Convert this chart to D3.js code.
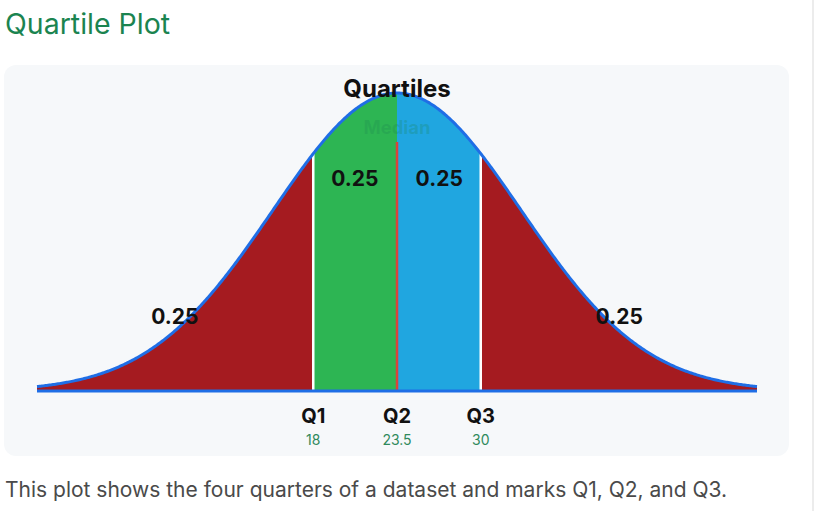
<!DOCTYPE html>
<html>
<head>
<meta charset="utf-8">
<script src="https://cdn.jsdelivr.net/npm/d3@7"></script>
<style>
  body { margin: 0; background: #fff; font-family: Inter, "Noto Sans", sans-serif; overflow: hidden; }
  #edge { position: absolute; left: 812px; top: 0; width: 2px; height: 511px; background: #ececec; }
</style>
</head>
<body>
<div id="edge"></div>
<svg id="svg1"></svg>
<script>
// quartile positions on a standard normal curve
var quartileNames = ["Q1", "Q2", "Q3"];
var quartileValues = [18, 23.5, 30];
var quartileZ = [-0.6745, 0, 0.6745];
var areaLabels = ["0.25", "0.25", "0.25", "0.25"];
var areaColors = ["#a51b20", "#2db553", "#20a6e0", "#a51b20"];

var width = 819, height = 511;
var margin = {left: 37, right: 62, top: 93, bottom: 120};

var svg = d3.select('#svg1')
  .attr('width', width)
  .attr('height', height);

svg.append('text')
  .attr('x', 5)
  .attr('y', 34)
  .attr('fill', '#1b8450')
  .style('font-size', '28.5px')
  .text('Quartile Plot');

svg.append('rect')
  .attr('x', 4).attr('y', 65)
  .attr('width', 785).attr('height', 391)
  .attr('rx', 12)
  .attr('fill', '#f6f8fa');

svg.append('text')
  .attr('x', 5)
  .attr('y', 497)
  .attr('fill', '#4a4a4a')
  .style('font-size', '21px')
  .text('This plot shows the four quarters of a dataset and marks Q1, Q2, and Q3.');

var zMax = 2.9;
var x = d3.scaleLinear().domain([-zMax, zMax]).range([margin.left, width - margin.right]);
var pdf = function(z) { return Math.exp(-z * z / 2) / Math.sqrt(2 * Math.PI); };
var y = d3.scaleLinear().domain([0, pdf(0)]).range([391, margin.top]);

// the density curve itself
var zs = d3.range(-zMax, zMax + 0.0001, 0.01);
var area = d3.area()
  .x(function(d) { return x(d); })
  .y0(y(0))
  .y1(function(d) { return y(pdf(d)); });

var bounds = [-zMax].concat(quartileZ).concat([zMax]);
areaColors.forEach(function(c, i) {
  var lo = bounds[i], hi = bounds[i + 1];
  var seg = zs.filter(function(z) { return z >= lo && z <= hi; });
  seg = [lo].concat(seg).concat([hi]);
  svg.append('path')
    .datum(seg)
    .attr('d', area)
    .attr('fill', c);
});

svg.append('text')
  .attr('x', x(0))
  .attr('y', 134)
  .attr('text-anchor', 'middle')
  .attr('fill', '#1b8450')
  .attr('fill-opacity', 0.25)
  .style('font-size', '18.5px')
  .style('font-weight', 'bold')
  .text('Median');

// quartile lines
quartileZ.forEach(function(z, i) {
  svg.append('line')
    .attr('x1', x(z)).attr('x2', x(z))
    .attr('y1', i == 1 ? 142 : y(pdf(z)))
    .attr('y2', y(0))
    .attr('stroke', i == 1 ? '#d8443c' : '#fff')
    .attr('stroke-width', 2.5);
});

svg.append('path')
  .datum(zs)
  .attr('d', d3.line().x(function(d) { return x(d); }).y(function(d) { return y(pdf(d)); }))
  .attr('fill', 'none')
  .attr('stroke', '#1f6ee6')
  .attr('stroke-width', 3);

svg.append('line')
  .attr('x1', x(-zMax)).attr('x2', x(zMax))
  .attr('y1', y(0)).attr('y2', y(0))
  .attr('stroke', '#1f6ee6')
  .attr('stroke-width', 3);

svg.append('text')
  .attr('x', x(0))
  .attr('y', 97)
  .attr('text-anchor', 'middle')
  .attr('fill', '#111')
  .style('font-size', '24px')
  .style('font-weight', 'bold')
  .text('Quartiles');

// 0.25 labels
var labelZ = [-1.79, -0.34, 0.34, 1.79];
var labelY = [324, 186, 186, 324];
areaLabels.forEach(function(t, i) {
  svg.append('text')
    .attr('x', x(labelZ[i]))
    .attr('y', labelY[i])
    .attr('text-anchor', 'middle')
    .attr('fill', '#111')
    .style('font-size', '21px')
    .style('font-weight', 'bold')
    .text(t);
});

quartileZ.forEach(function(z, i) {
  svg.append('text')
    .attr('x', x(z))
    .attr('y', 423)
    .attr('text-anchor', 'middle')
    .attr('fill', '#111')
    .style('font-size', '20px')
    .style('font-weight', 'bold')
    .text(quartileNames[i]);
  svg.append('text')
    .attr('x', x(z))
    .attr('y', 445)
    .attr('text-anchor', 'middle')
    .attr('fill', '#2f8a5c')
    .style('font-size', '14px')
    .text(quartileValues[i]);
});
</script>
</body>
</html>
